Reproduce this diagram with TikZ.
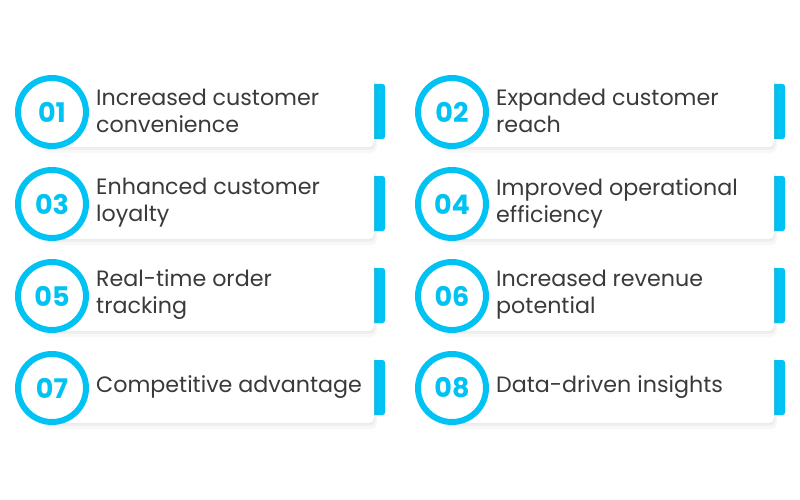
\documentclass[tikz,border=0pt]{standalone}
\usepackage{fontspec}
\setmainfont{Poppins}
\usetikzlibrary{shadows}
\definecolor{cy}{HTML}{00C2F3}
\definecolor{tx}{HTML}{3A3A3A}
\tikzset{x=1pt,y=-1pt,
 card/.style={fill=white,rounded corners=5pt,
   drop shadow={opacity=0.05,shadow xshift=3pt,shadow yshift=-6pt},
   drop shadow={opacity=0.07,shadow xshift=1.5pt,shadow yshift=-3pt},
   drop shadow={opacity=0.05,shadow xshift=0pt,shadow yshift=-1pt}},
 tab/.style={fill=cy,rounded corners=2.5pt},
 ring/.style={circle,draw=cy,line width=6pt,fill=white,minimum size=68pt,inner sep=0pt,font=\fontsize{27}{29}\selectfont\bfseries,text=cy},
 lbl/.style={anchor=west,align=left,text=tx,font=\fontsize{22.2}{27}\selectfont,inner sep=0pt}}
\begin{document}
\begin{tikzpicture}
\fill[white] (0,0) rectangle (800,500);
\useasboundingbox (0,0) rectangle (800,500);
\foreach \n/\t [count=\i from 0] in {01/{Increased customer\\convenience},02/{Expanded customer\\reach},03/{Enhanced customer\\loyalty},04/{Improved operational\\efficiency},05/{Real-time order\\tracking},06/{Increased revenue\\potential},07/{Competitive advantage},08/{Data-driven insights}}{
 \pgfmathsetmacro\cx{mod(\i,2)*400}
 \pgfmathsetmacro\cy{111+int(\i/2)*92}
 \begin{scope}[shift={(\cx,\cy)}]
 \fill[tab] (368,-27) rectangle (385,28);
 \path[card] (40,-36) rectangle (374,36);
 \node[ring] (c\n) at (52,1) {\n};
 \node[lbl] (l\n) at (96,0) {\t};
 \end{scope}
}
\end{tikzpicture}
\end{document}
